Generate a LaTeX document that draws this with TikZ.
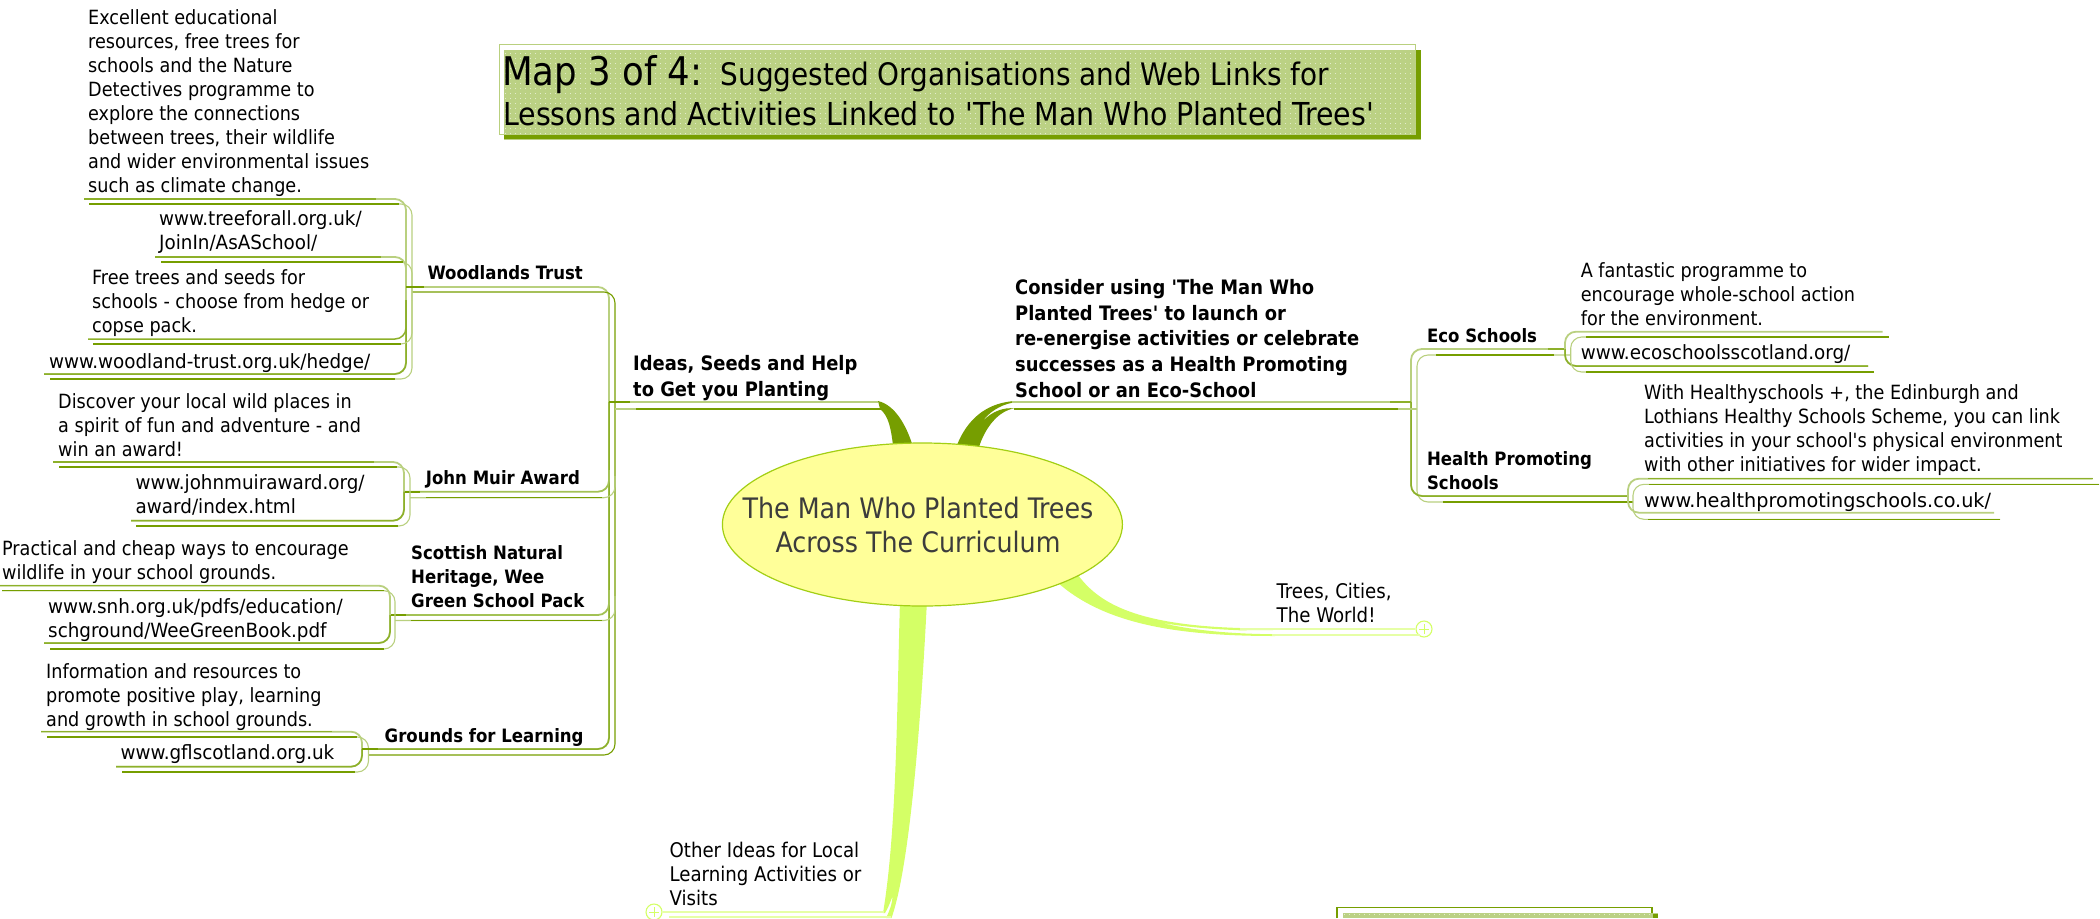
\documentclass[tikz,border=0pt]{standalone}
\usepackage{fontspec}
\setmainfont{DejaVu Sans Condensed}[Ligatures=TeXOff]
\newfontfamily\urlfont{DejaVu Sans Condensed}[FakeStretch=1.04,Ligatures=TeXOff]
\newfontfamily\urlwide{DejaVu Sans Condensed}[FakeStretch=1.09,Ligatures=TeXOff]
\usetikzlibrary{shapes.geometric,calc}
\definecolor{olive}{HTML}{769E00}
\definecolor{midol}{HTML}{8DB02A}
\definecolor{mixol}{HTML}{A3C255}
\definecolor{paleol}{HTML}{B9D07F}
\definecolor{boxfill}{HTML}{BBD184}
\definecolor{lime}{HTML}{D4FF66}
\definecolor{limeln}{HTML}{E6FFA6}
\definecolor{rootfill}{HTML}{FFFF99}
\definecolor{rootln}{HTML}{A3CF14}
\definecolor{roottx}{HTML}{3C3C3C}
\tikzset{
  txt/.style={anchor=north west,inner sep=0pt,align=left,text=black,font=\fontsize{19.6}{24}\selectfont},
  urltxt/.style={txt,font=\fontsize{19.6}{24}\urlfont\selectfont},
  urlw/.style={txt,font=\fontsize{19.6}{24}\urlwide\selectfont},
  loose/.style={txt,font=\fontsize{20.2}{24}\selectfont},
  btxt/.style={txt,font=\fontsize{18.4}{24}\selectfont\bfseries},
  bigb/.style={txt,font=\fontsize{19.9}{25.8}\selectfont\bfseries},
  upper/.style={draw=midol,line width=1.5pt,rounded corners=11pt},
  lower/.style={draw=olive,line width=1.1pt,rounded corners=11pt},
  upale/.style={draw=paleol,line width=1.8pt,rounded corners=11pt},
  lpale/.style={draw=paleol,line width=1.1pt,rounded corners=11pt},
  branch/.style={draw=mixol,line width=1.8pt,rounded corners=11pt},
  stub/.style={draw=olive,line width=2.2pt},
  collapse/.style={circle,draw=lime,fill=white,line width=1.1pt,minimum size=16pt,inner sep=0pt},
  plusln/.style={draw=lime,line width=.8pt},
  limeup/.style={draw=limeln,line width=2.2pt},
  limelo/.style={draw=limeln,line width=1.6pt},
  rootnode/.style={ellipse,draw=rootln,fill=rootfill,line width=1.2pt,minimum width=400pt,minimum height=163pt,inner sep=0pt},
  rootlabel/.style={inner sep=0pt,align=center,text=roottx,font=\fontsize{28.2}{33.6}\selectfont},
}
% #1 style, #2 top end, #3 vertical x, #4 bottom end
\newcommand\brk[4][upper]{\draw[#1] (#2) -- (#2 -| #3) -- (#4 -| #3) -- (#4);}
% pale upper half, stronger far end of the top arm and lower half: #1 top, #2 vertical x, #3 bottom, #4 junction
\newcommand\brkU[4]{%
  \brk[upale]{#1}{#2}{#3}
  \draw[upper] (#4 -| #2) -- (#3 -| #2) -- (#3);
  \draw[upper] (#1) -- ($(#1 -| #2)+(-30,0)$);
}
\begin{document}
\begin{tikzpicture}[x=1pt,y=-1pt]
\useasboundingbox (0,0) rectangle (2100,918);

% ---- title box
\draw[draw=paleol,line width=1.5pt] (499.5,44.5) rectangle (1415.7,134.5);
\fill[boxfill] (504.3,50) rectangle (1420.8,140);
\fill[olive] (504.3,134.6) rectangle (1420.5,139.4);
\fill[olive] (1416,50) rectangle (1420.5,139.4);
\foreach \yy in {53,58,...,133}{
  \draw[white,opacity=.6,line width=1pt,dash pattern=on 1pt off 4pt] (505,\yy) -- (1415,\yy);
}
\node[anchor=base west,inner sep=0pt] (title) at (502,85) {\fontsize{39.5}{40}\selectfont Map 3 of 4:};
\node[anchor=base west,inner sep=0pt] (sub1) at (720.5,85) {\fontsize{31}{40}\selectfont Suggested Organisations and Web Links for};
\node[anchor=base west,inner sep=0pt] (sub2) at (503,125) {\fontsize{31.6}{40}\selectfont Lessons and Activities Linked to 'The Man Who Planted Trees'};

% ---- bottom partial box
\draw[draw=olive,line width=1.5pt] (1337,918) -- (1337,907.5) -- (1652,907.5) -- (1652,918);
\fill[boxfill] (1343,913) rectangle (1658,918);
\fill[olive] (1652.5,913.5) rectangle (1658,918);
\draw[white,opacity=.6,line width=1pt,dash pattern=on 1pt off 4pt] (1344,914) -- (1652,914);

% ---- swooshes (under the root ellipse)
\fill[olive] (878,401) .. controls (895,405) and (906,425) .. (912.5,445) -- (893,445) .. controls (891,430) and (889,416) .. (880,409) -- cycle;
\fill[olive] (1012,401.2) .. controls (985,404) and (967,420) .. (957,445) -- (979,447) .. controls (985,428) and (998,411) .. (1014,408.5) .. controls (1005,407) and (992,411) .. (983,421) .. controls (988,413) and (1000,405) .. (1012,402.8) -- cycle;
\fill[lime] (1078,575) .. controls (1100,605) and (1140,625) .. (1240,628) -- (1273,628.5) -- (1273,630) -- (1240,630.3) .. controls (1210,629) and (1185,627) .. (1160,622.5) .. controls (1190,630) and (1230,634) .. (1275,634.2) -- (1275,636) .. controls (1180,636) and (1105,625) .. (1057,582) -- cycle;
\fill[lime] (900,600) .. controls (897,700) and (897,830) .. (883,913) -- (885,913) .. controls (888,908) and (890,903) .. (892.6,896) .. controls (892,905) and (889,912) .. (886,918) -- (891.5,918) .. controls (905,880) and (918,780) .. (927,600) -- cycle;

% ---- root
\node[rootnode] (root) at (922.4,524.5) {};
\node[rootlabel] (rootl) at (918,525) {The Man Who Planted Trees\\Across The Curriculum};

% ---- collapse handles
\node[collapse] (cvis) at (654,912) {};
\node[collapse] (ccity) at (1424,629) {};
\draw[plusln] ($(cvis)+(-5,0)$) -- ($(cvis)+(5,0)$) ($(cvis)+(0,-5)$) -- ($(cvis)+(0,5)$);
\draw[plusln] ($(ccity)+(-5,0)$) -- ($(ccity)+(5,0)$) ($(ccity)+(0,-5)$) -- ($(ccity)+(0,5)$);
\coordinate (visU) at (884,912); \coordinate (visL) at (891,917); \coordinate (visL0) at (669,917);
\coordinate (cityU) at (1240,629); \coordinate (cityL) at (1272,635); \coordinate (cityL1) at (1420,635);
\draw[limeup] (visU) -- (cvis.east);
\draw[limelo] (visL) -- (visL0);
\draw[limeup] (cityU) -- (ccity.west);
\draw[limelo] (cityL) -- (cityL1);

% ---- left: coordinates
\coordinate (vA) at (609,0); \coordinate (vB) at (615,0);
\coordinate (idsU0) at (878,402); \coordinate (idsL0) at (882,409);
\coordinate (idsUs) at (630,402); \coordinate (idsLs) at (636,409);
\coordinate (jun) at (609,402); \coordinate (junB) at (615,409);
\coordinate (wU) at (424,287); \coordinate (wL) at (412,292);
\coordinate (gU) at (362,749); \coordinate (gL) at (368.5,755);
\coordinate (jmU) at (404,491.7); \coordinate (jmL) at (410,497.7);
\coordinate (jmUt) at (609,470); \coordinate (jmLt) at (615,476);
\coordinate (snU) at (390,615); \coordinate (snL) at (395,620.5);
\coordinate (snUt) at (609,590); \coordinate (snLt) at (615,596);

% ---- left trunk
\brk[upale]{wU}{vA}{gU}
\draw[upper] (jun) -- (gU -| vA) -- (gU);
\brk[lower]{wL}{vB}{gL}
\draw[upale] (idsU0) -- (jun);
\draw[stub] (idsUs) -- (jun);
\draw[lower] (idsL0) -- (junB);
\draw[lpale,line width=1.6pt] (idsLs) -- (junB);
\draw[branch] (jmU) -- (jmU -| vA) -- (jmUt);
\draw[lpale] (jmL) -- (jmL -| vB) -- (jmLt);
\draw[branch] (snU) -- (snU -| vA) -- (snUt);
\draw[lpale] (snL) -- (snL -| vB) -- (snLt);
\draw[lower] ($(jmL)+(16,0)$) -- ($(jmL)+(192,0)$);
\draw[lower] ($(snL)+(16,0)$) -- ($(snL)+(207,0)$);
\draw[stub,line width=1.8pt] (jmU) -- ($(jmU)+(16,0)$);
\draw[stub,line width=1.8pt] (snU) -- ($(snU)+(16,0)$);

% ---- Woodlands bracket
\coordinate (wvA) at (406,0); \coordinate (wvB) at (412,0); \coordinate (wmid) at (0,300);
\coordinate (w1U) at (84,199); \coordinate (w1L) at (89,204);
\coordinate (w2U) at (155,257); \coordinate (w2L) at (161,262);
\coordinate (w3U) at (88,339); \coordinate (w3L) at (93,344);
\coordinate (w4U) at (44,374); \coordinate (w4L) at (50,379);
\coordinate (wstubE) at (424,287); \coordinate (wstubW) at (406,287);
\brkU{w1U}{wvA}{w4U}{wstubW}
\brk[lpale]{w1L}{wvB}{w4L}
\draw[lower] (w1L) -- ($(w1L)+(310,0)$);
\draw[lower] (w4L) -- ($(w4L)+(345,0)$);
\draw[upale] (w2U) -- (w2U -| wvA) -- (wmid -| wvA);
\draw[upper] (w2U) -- ($(w2U -| wvA)+(-25,0)$);
\draw[upper] (w3U) -- (w3U -| wvA) -- (wmid -| wvA);
\draw[lpale] (w2L) -- (w2L -| wvB) -- (wmid -| wvB);
\draw[lpale] (w3L) -- (w3L -| wvB) -- (wmid -| wvB);
\draw[lower] (w2L) -- ($(w2L)+(242,0)$);
\draw[lower] (w3L) -- ($(w3L)+(308,0)$);
\draw[stub] (wstubW) -- (wstubE);

% ---- John Muir bracket
\coordinate (jvA) at (404,0); \coordinate (jvB) at (410,0);
\coordinate (j1U) at (53,462); \coordinate (j1L) at (59,467);
\coordinate (j2U) at (131,520.7); \coordinate (j2L) at (136,526);
\brkU{j1U}{jvA}{j2U}{jmU}
\brk[lpale]{j1L}{jvB}{j2L}
\draw[lower] (j1L) -- ($(j1L)+(338,0)$);
\draw[lower] (j2L) -- ($(j2L)+(262,0)$);

% ---- Scottish bracket
\coordinate (svA) at (390,0); \coordinate (svB) at (395,0);
\coordinate (s1U) at (0,585.7); \coordinate (s1L) at (2,590.7);
\coordinate (s2U) at (44,643); \coordinate (s2L) at (50,649);
\brkU{s1U}{svA}{s2U}{snU}
\brk[lpale]{s1L}{svB}{s2L}
\draw[lower] (s1L) -- ($(s1L)+(382,0)$);
\draw[lower] (s2L) -- ($(s2L)+(334,0)$);

% ---- Grounds bracket
\coordinate (gvA) at (362,0); \coordinate (gvB) at (368.5,0);
\coordinate (g1U) at (41,731.7); \coordinate (g1L) at (47,737);
\coordinate (g2U) at (116,766.7); \coordinate (g2L) at (122,772);
\brkU{g1U}{gvA}{g2U}{gU}
\brk[lpale]{g1L}{gvB}{g2L}
\draw[lower] (g1L) -- ($(g1L)+(310,0)$);
\draw[lower] (g2L) -- ($(g2L)+(233,0)$);
\draw[stub,line width=1.8pt] (gU) -- ($(gU)+(16,0)$);

% ---- right side
\coordinate (rU0) at (1012,402); \coordinate (rL0) at (1014,409);
\coordinate (rvA) at (1411,0); \coordinate (rvB) at (1417,0);
\coordinate (eU) at (1565,349); \coordinate (eL) at (1570.7,355);
\coordinate (hU) at (1628,496); \coordinate (hL) at (1633,502);
\coordinate (rStub) at (1390,402); \coordinate (rStubB) at (1398,409);
\draw[upale] (rU0) -- (rU0 -| rvA);
\draw[lower] (rL0) -- (rL0 -| rvB);
\brk[upale]{eU}{rvA}{hU}
\brk[lpale]{eL}{rvB}{hL}
\draw[lower] (hL) -- ($(hL)+(-190,0)$);
\draw[lower] ($(eL)+(-17,0)$) -- ($(eL)+(-135,0)$);
\draw[upper] (rU0 -| rvA) -- (hU -| rvA) -- (hU);
\draw[draw=midol,line width=2.2pt] (rStub) -- (rU0 -| rvA);
\draw[lpale,line width=1.6pt] (rStubB) -- (rL0 -| rvB);
\draw[draw=midol,line width=1.8pt] ($(eU)+(-17,0)$) -- (eU);

% Eco bracket
\coordinate (ebA) at (1565,0); \coordinate (ebB) at (1570.7,0);
\coordinate (e1U) at (1882.7,331.7); \coordinate (e1L) at (1888.7,337);
\coordinate (e2U) at (1868,366); \coordinate (e2L) at (1873.6,372);
\brk[upale]{e1U}{ebA}{e2U}
\draw[upper] (eU) -- (e2U -| ebA) -- (e2U);
\brk[lpale]{e1L}{ebB}{e2L}
\draw[lower] (e1L) -- ($(e1L)+(-303,0)$);
\draw[lower] (e2L) -- ($(e2L)+(-288,0)$);

% Health bracket
\coordinate (hbA) at (1628,0); \coordinate (hbB) at (1633,0);
\coordinate (h1U) at (2092.6,478.7); \coordinate (h1L) at (2099,484.3);
\coordinate (h2U) at (1994,512.7); \coordinate (h2L) at (2000,519.3);
\brk[upale]{h1U}{hbA}{h2U}
\draw[upper] (h1U) -- ($(h1U -| hbA)+(20,0)$);
\brk[lpale]{h1L}{hbB}{h2L}
\draw[lower] (h1L) -- ($(h1L)+(-450,0)$);
\draw[lower] (h2L) -- ($(h2L)+(-352,0)$);

% ---- texts
\node[txt] (wt1) at (88,7) {\strut Excellent educational\\resources, free trees for\\schools and the Nature\\Detectives programme to\\explore the connections\\between trees, their wildlife\\and wider environmental issues\\such as climate change.};
\node[urltxt] (wt2) at (159,208.5) {\strut www.treeforall.org.uk/\\JoinIn/AsASchool/};
\node[txt] (wt3) at (92,267.2) {\strut Free trees and seeds for\\schools - choose from hedge or\\copse pack.};
\node[urltxt] (wt4) at (49,351) {\strut www.woodland-trust.org.uk/hedge/};
\node[btxt] (wood) at (427.3,262) {\strut Woodlands Trust};
\node[txt] (jt1) at (58,391) {\strut Discover your local wild places in\\a spirit of fun and adventure - and\\win an award!};
\node[urltxt] (jt2) at (135.5,472.5) {\strut www.johnmuiraward.org/\\award/index.html};
\node[btxt] (jma) at (425.7,467.3) {\strut John Muir Award};
\node[txt] (st1) at (2,538) {\strut Practical and cheap ways to encourage\\wildlife in your school grounds.};
\node[urltxt] (st2) at (48,596) {\strut www.snh.org.uk/pdfs/education/\\schground/WeeGreenBook.pdf};
\node[btxt] (snh) at (411,542.5) {\strut Scottish Natural\\Heritage, Wee\\Green School Pack};
\node[txt] (gt1) at (46,661) {\strut Information and resources to\\promote positive play, learning\\and growth in school grounds.};
\node[urltxt] (gt2) at (120.4,742.5) {\strut www.gflscotland.org.uk};
\node[btxt] (gfl) at (384.5,725.3) {\strut Grounds for Learning};
\node[bigb] (ideas) at (633,352) {\strut Ideas, Seeds and Help\\to Get you Planting};
\node[bigb] (cons) at (1015,276) {\strut Consider using 'The Man Who\\Planted Trees' to launch or\\re-energise activities or celebrate\\successes as a Health Promoting\\School or an Eco-School};
\node[btxt] (eco) at (1426.8,325.3) {\strut Eco Schools};
\node[btxt] (hps) at (1426.8,448.3) {\strut Health Promoting\\Schools};
\node[txt] (et1) at (1580.6,260) {\strut A fantastic programme to\\encourage whole-school action\\for the environment.};
\node[urltxt] (et2) at (1580.6,342.5) {\strut www.ecoschoolsscotland.org/};
\node[txt] (ht1) at (1644,382.6) {\strut With Healthyschools +, the Edinburgh and\\Lothians Healthy Schools Scheme, you can link\\activities in your school's physical environment\\with other initiatives for wider impact.};
\node[urlw] (ht2) at (1644,490) {\strut www.healthpromotingschools.co.uk/};
\node[loose] (city) at (1276.5,581.3) {\strut Trees, Cities,\\The World!};
\node[loose] (vis) at (669.4,840.3) {\strut Other Ideas for Local\\Learning Activities or\\Visits};
\end{tikzpicture}
\end{document}
